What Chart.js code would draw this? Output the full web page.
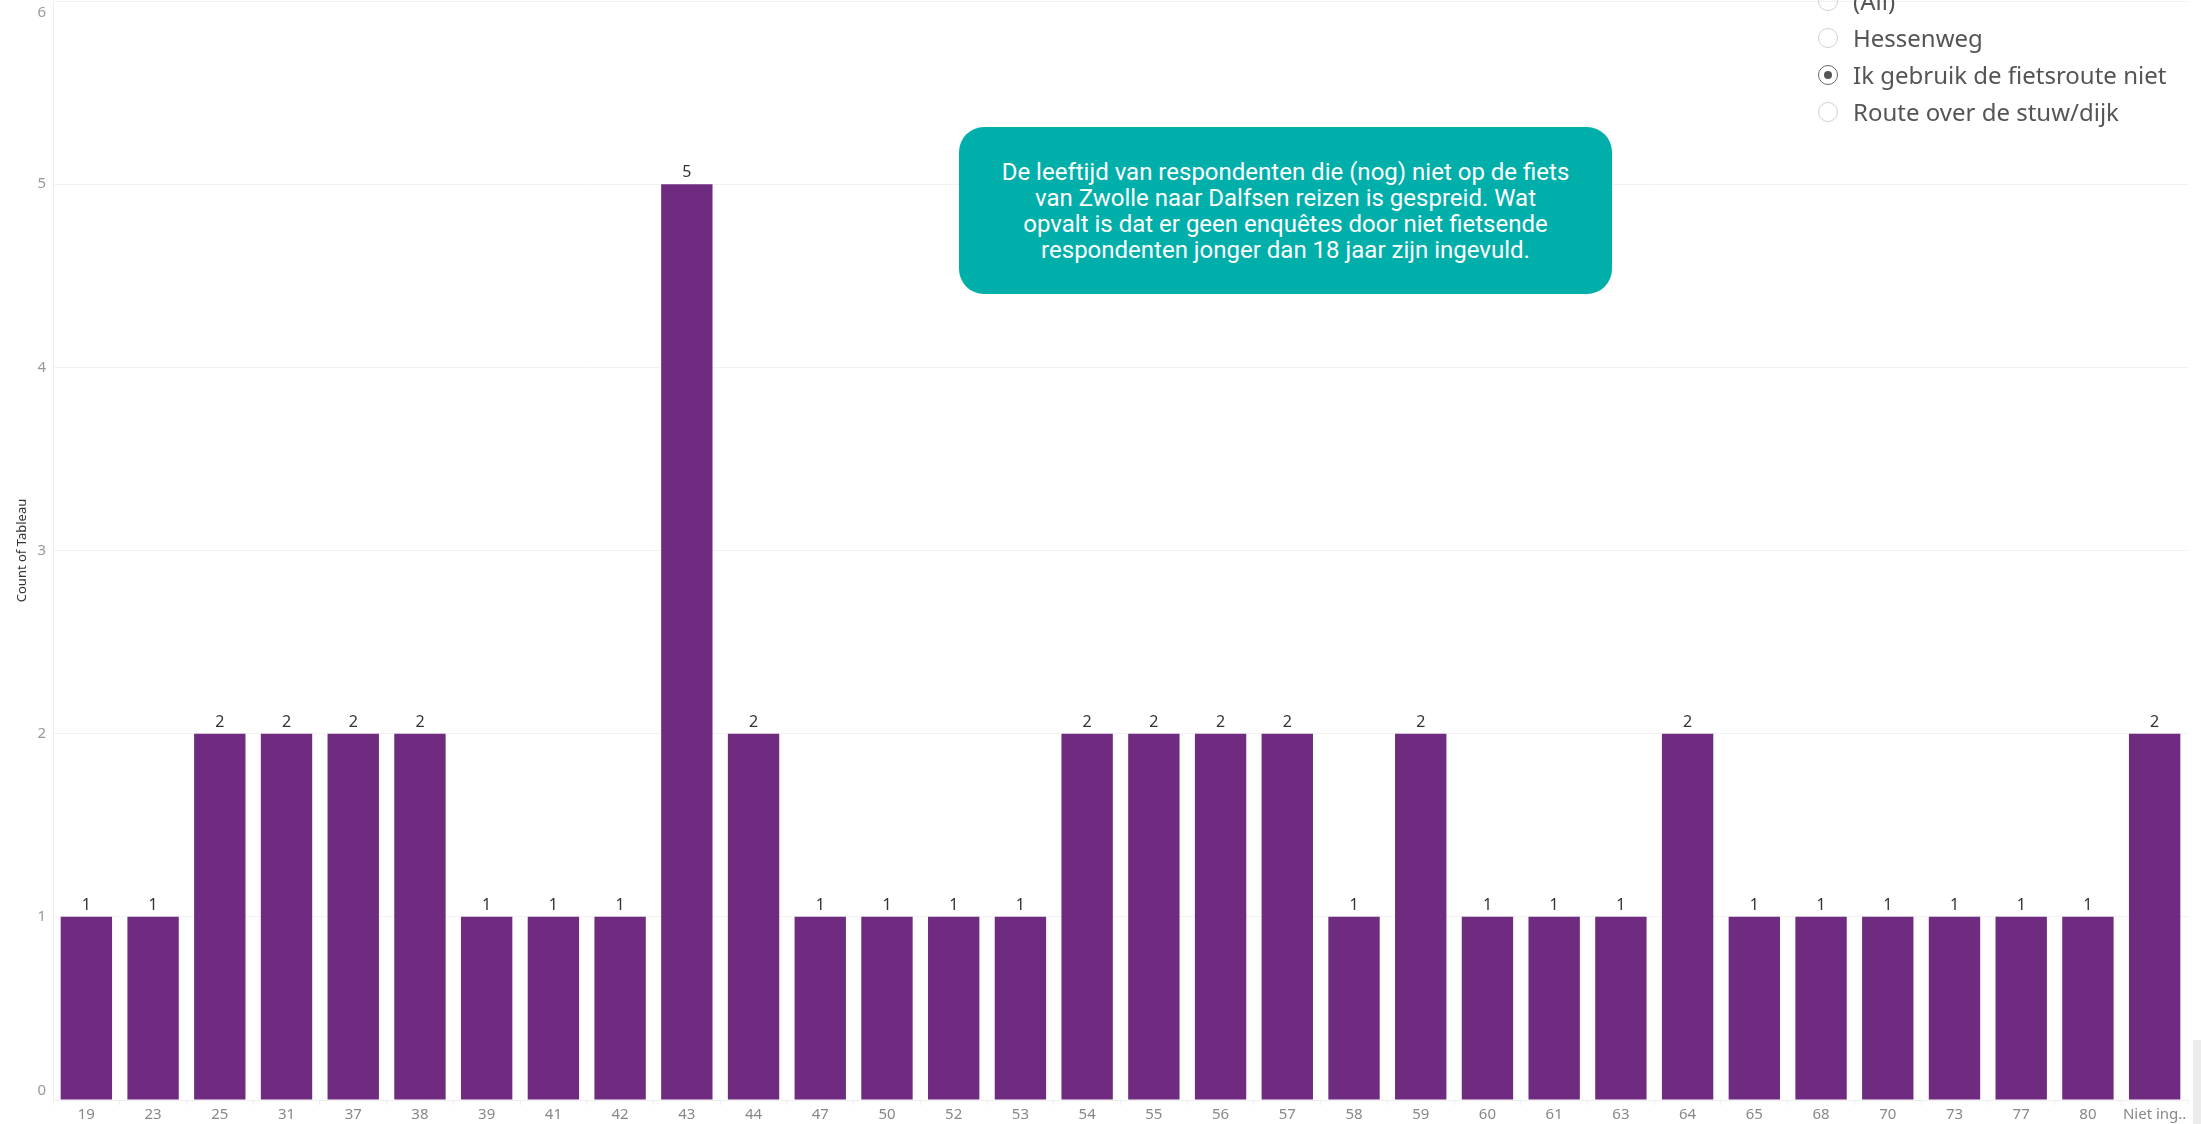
<html lang="nl">
<head>
<meta charset="utf-8">
<title>Count of Tableau per leeftijd</title>
<script src="https://cdn.jsdelivr.net/npm/chart.js"></script>
<style>
  html, body { margin: 0; padding: 0; background: #fff; overflow: hidden; }
  #wrap { position: relative; width: 2201px; height: 1124px; }
  #myChart { position: absolute; left: 0; top: 0; }
  .legend { position: absolute; left: 1817px; top: -18px; font-family: "Noto Sans", Lato, sans-serif; font-size: 24px; color: #555; }
  .legend div { height: 37px; line-height: 37px; position: relative; padding-left: 36px; white-space: nowrap; }
  .legend span.r { position: absolute; left: 1px; top: 9px; width: 18px; height: 18px; border: 1.5px solid #d0d0d0; border-radius: 50%; box-sizing: content-box; }
  .legend span.r.on { border-color: #666; }
  .legend span.r.on::after { content: ""; position: absolute; left: 5px; top: 5px; width: 8px; height: 8px; border-radius: 50%; background: #555; }
  .note { position: absolute; left: 959px; top: 127px; width: 653px; height: 167px; background: #00afaa; border-radius: 25px;
          color: #fff; font-family: Roboto, "Noto Sans", sans-serif; font-size: 24px; line-height: 26px; letter-spacing: 0;
          text-align: center; display: flex; align-items: center; justify-content: center; box-sizing: border-box; padding: 0 10px; }
  .scroll { position: absolute; left: 2193px; top: 1040px; width: 8px; height: 84px; background: #ececec; }
</style>
</head>
<body>
<div id="wrap">
  <canvas id="myChart" width="2201" height="1124"></canvas>
  <div class="legend">
    <div><span class="r"></span>(All)</div>
    <div><span class="r"></span>Hessenweg</div>
    <div><span class="r on"></span>Ik gebruik de fietsroute niet</div>
    <div><span class="r"></span>Route over de stuw/dijk</div>
  </div>
  <div class="note"><div>De leeftijd van respondenten die (nog) niet op de fiets<br>van Zwolle naar Dalfsen reizen is gespreid. Wat<br>opvalt is dat er geen enquêtes door niet fietsende<br>respondenten jonger dan 18 jaar zijn ingevuld.</div></div>
  <div class="scroll"></div>
</div>

<script>
const ages = ['19','23','25','31','37','38','39','41','42','43','44','47','50','52','53','54',
              '55','56','57','58','59','60','61','63','64','65','68','70','73','77','80','Niet ing..'];
const counts = [1,1,2,2,2,2,1,1,1,5,2,1,1,1,1,2,
                2,2,2,1,2,1,1,1,2,1,1,1,1,1,1,2];
const yTicks = [0,1,2,3,4,5,6];

// labels above each bar, like Tableau marks
const barLabels = {
  id: 'barLabels',
  afterDatasetsDraw(chart) {
    const ctx = chart.ctx;
    const meta = chart.getDatasetMeta(0);
    ctx.save();
    ctx.font = '16px "Noto Sans", Lato, sans-serif';
    ctx.fillStyle = '#333';
    ctx.textAlign = 'center';
    ctx.textBaseline = 'alphabetic';
    meta.data.forEach((bar, i) => {
      ctx.fillText(String(counts[i]), bar.x, bar.y - 7);
    });
    ctx.restore();
  }
};

// y tick labels, kept inside the plot like tableau does (top one below, bottom one above)
const yLabels = {
  id: 'yLabels',
  afterDraw(chart) {
    const ctx = chart.ctx;
    const y = chart.scales.y;
    ctx.save();
    ctx.font = '15px "Noto Sans", Lato, sans-serif';
    ctx.fillStyle = '#999';
    ctx.textAlign = 'right';
    yTicks.forEach(v => {
      let py = y.getPixelForValue(v);
      ctx.textBaseline = 'middle';
      if (v === yTicks[yTicks.length - 1]) py += 12;
      if (v === 0) py -= 9;
      ctx.fillText(String(v), y.right - 7, py);
    });
    ctx.restore();
  }
};

const ctx = document.getElementById('myChart').getContext('2d');

new Chart(ctx, {
  type: 'bar',
  data: {
    labels: ages,
    datasets: [{
      label: 'Count of Tableau',
      data: counts,
      backgroundColor: '#6f2b80',
      borderWidth: 0,
      barPercentage: 0.77,
      categoryPercentage: 1.0
    }]
  },
  options: {
    responsive: false,
    animation: false,
    layout: { padding: { top: 1, right: 13, left: 0, bottom: 0 } },
    plugins: {
      legend: { display: false },
      tooltip: { enabled: false }
    },
    scales: {
      x: {
        grid: { offset: true, drawOnChartArea: false, color: '#eeeeee', tickLength: 5 },
        border: { color: '#eeeeee' },
        ticks: {
          color: '#888',
          font: { size: 15, family: '"Noto Sans", Lato, sans-serif' },
          padding: 1,
          maxRotation: 0,
          autoSkip: false
        },
        afterFit(scale) { scale.height = 24; scale.paddingLeft = 0; scale.paddingRight = 0; }
      },
      y: {
        min: 0,
        max: 6,
        afterBuildTicks(scale) { scale.ticks = yTicks.map(v => ({ value: v })); },
        grid: { color: '#f2f2f2', drawTicks: false },
        border: { color: '#eeeeee' },
        ticks: { display: false },
        title: {
          display: true,
          text: 'Count of Tableau',
          color: '#333',
          font: { size: 13, family: '"Noto Sans", Lato, sans-serif' },
          padding: { top: 14, bottom: 0 }
        },
        afterFit(scale) { scale.width = 53; scale.paddingTop = 0; scale.paddingBottom = 0; }
      }
    }
  },
  plugins: [barLabels, yLabels]
});
</script>
</body>
</html>
